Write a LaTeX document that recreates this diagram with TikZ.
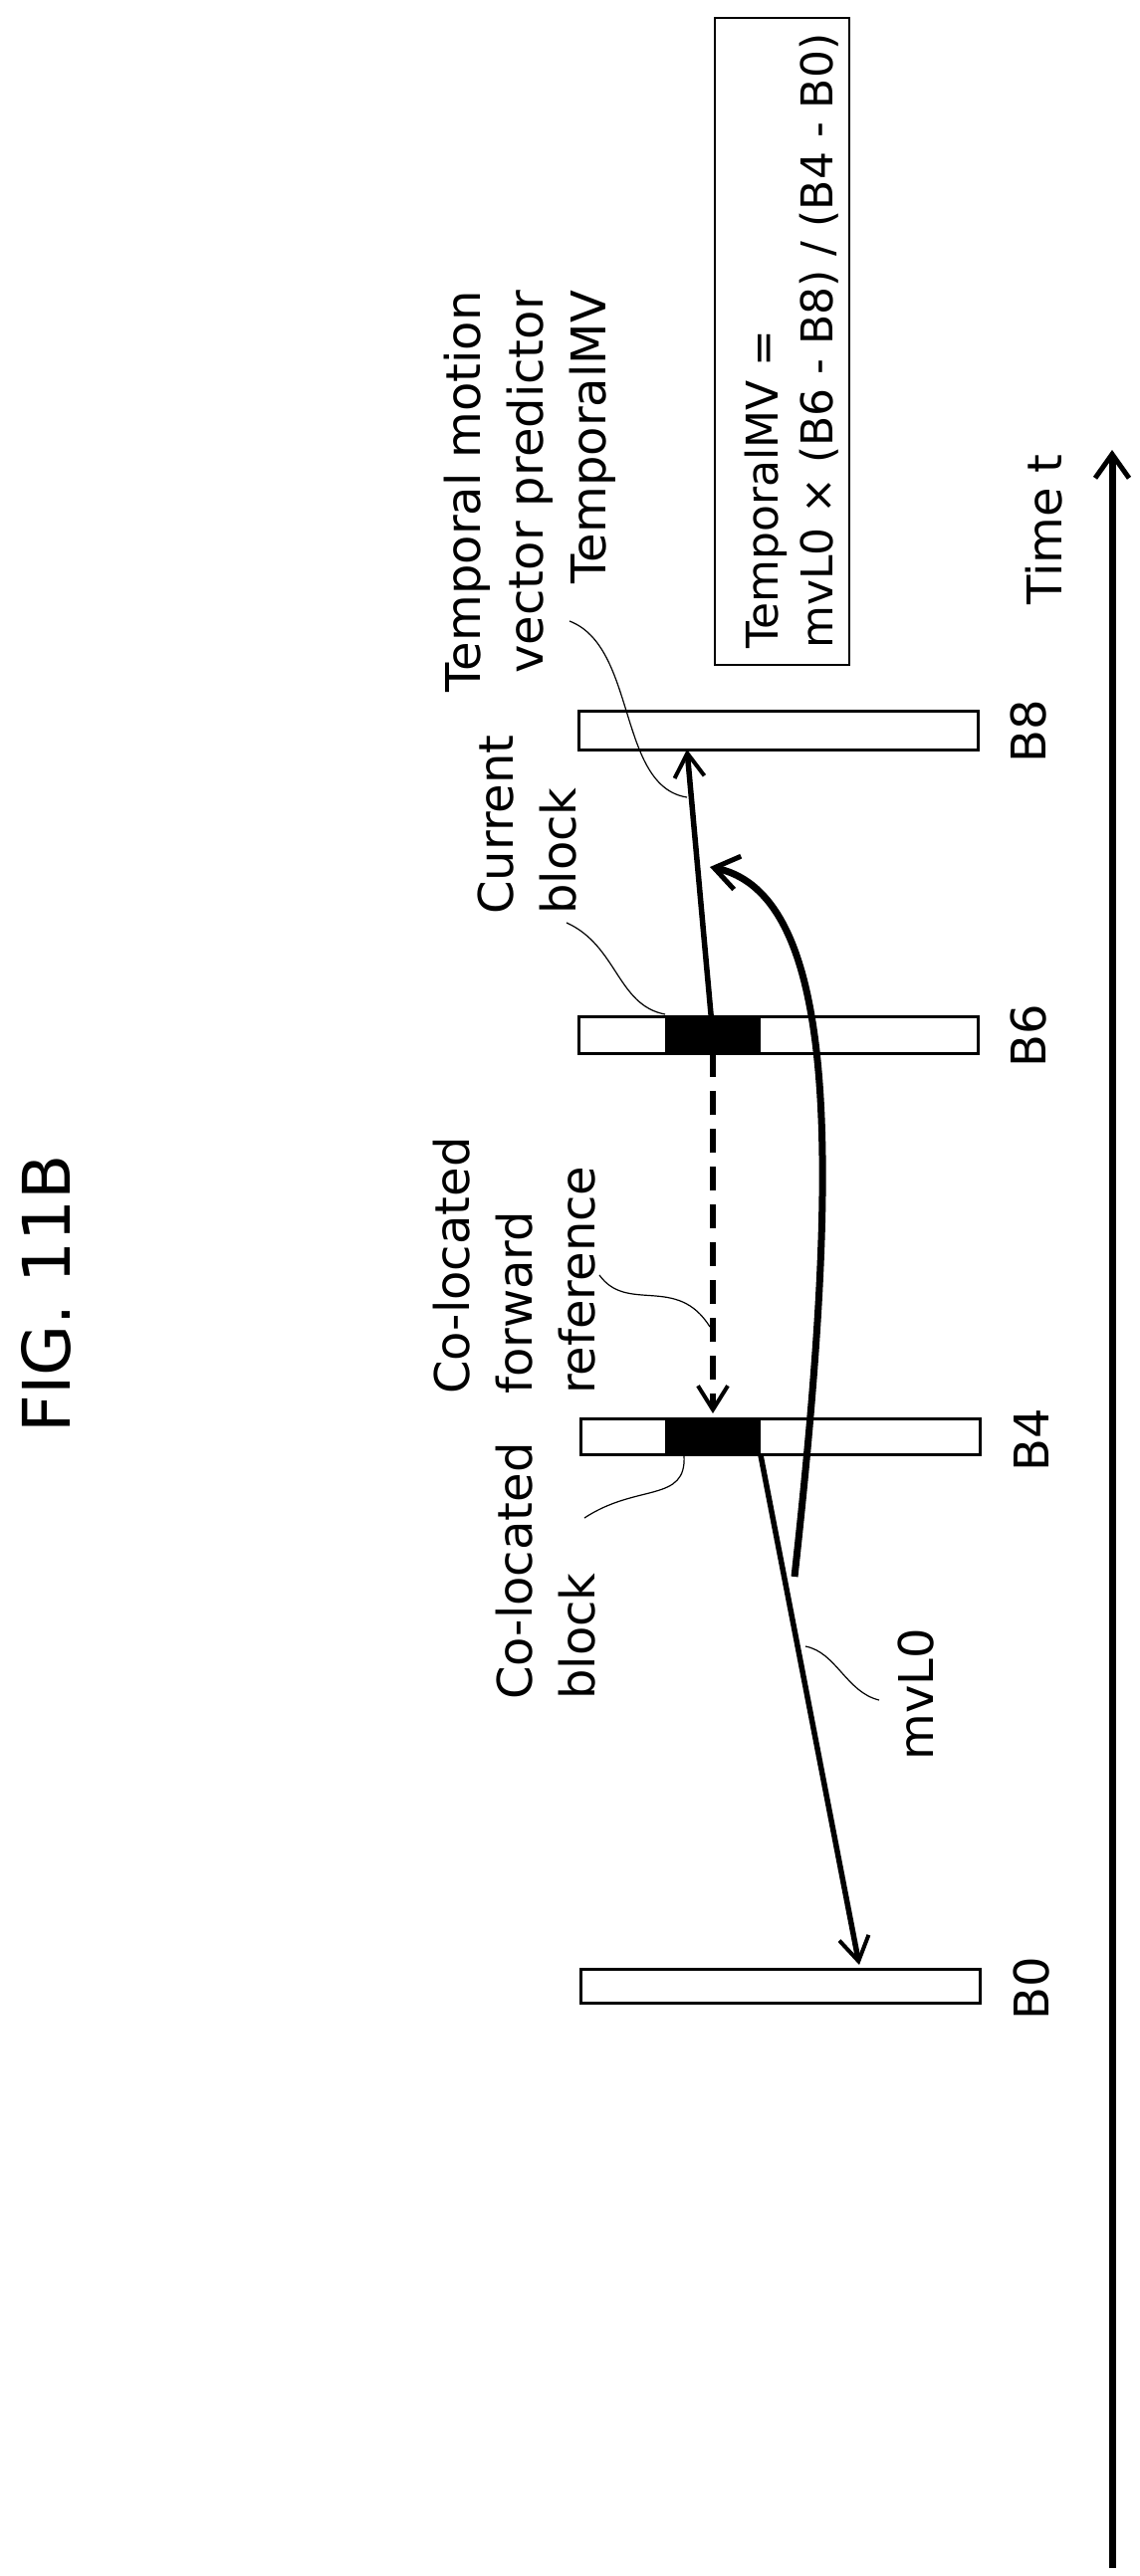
\documentclass[tikz,border=0pt]{standalone}
\usepackage{fontspec}
\setmainfont{DejaVu Sans}
\usetikzlibrary{arrows.meta}
\begin{document}
\begin{tikzpicture}[x=1pt,y=-1pt,
  lbl/.style={rotate=90,inner sep=0pt,font=\fontsize{48}{63}\selectfont},
  frame/.style={draw,line width=3pt,fill=white},
  blk/.style={fill=black},
  thick arrow/.style={line width=7pt,-{Straight Barb[length=24pt,width=34pt,line width=5pt]}},
  mv arrow/.style={line width=5.5pt,-{Straight Barb[length=24pt,width=30pt,line width=4pt]}},
  leader/.style={line width=1.2pt}]
\useasboundingbox (0,0) rectangle (1145,2588);
% title
\node[lbl,font=\fontsize{66}{72}\selectfont] (title) at (46,1300) {FIG. 11B};
% frames
\draw[frame] (581,714) rectangle (982,753); \coordinate (B8) at (690,753);
\draw[frame] (581,1021) rectangle (982,1058);
\draw[frame] (583,1425) rectangle (984,1461);
\draw[frame] (583,1978) rectangle (984,2012);
\fill[blk] (668,1021) rectangle (764,1058);
\fill[blk] (668,1425) rectangle (764,1461);
\coordinate (cur) at (716,1041);
\coordinate (curb) at (716,1058);
\coordinate (col) at (716,1420);
\coordinate (colb) at (764,1462);
\coordinate (B0) at (863,1974);
% labels for frames
\node[lbl] (lB8) at (1033,735) {B8};
\node[lbl] (lB6) at (1033,1041) {B6};
\node[lbl] (lB4) at (1036,1447) {B4};
\node[lbl] (lB0) at (1036,1998) {B0};
% time axis
\coordinate (ax0) at (1117,2580);
\coordinate (ax1) at (1117,452);
\draw[thick arrow] (ax0) -- (ax1);
\node[lbl] (time) at (1049,532) {Time t};
% formula box
\node[rotate=90,draw,line width=2.5pt,minimum width=650pt,minimum height=135pt,inner sep=0pt] (fbox) at (785.5,343) {};
\node[lbl,anchor=west,align=left,font=\fontsize{44}{55}\selectfont] (form) at (795,652) {TemporalMV =\\mvL0 × (B6 - B8) / (B4 - B0)};
% arrows
\draw[mv arrow] (cur) -- (B8);
\draw[mv arrow,dash pattern=on 24pt off 14pt] (curb) -- (col);
\draw[mv arrow] (colb) -- (B0);
\coordinate (cs) at (798,1584);
\coordinate (ce) at (713,871);
\draw[thick arrow] (cs) .. controls (840,1200) and (850,900) .. (ce);
% text labels
\node[lbl,anchor=east,align=right] (ltmv) at (532,292) {Temporal motion\\vector predictor\\TemporalMV};
\node[lbl,anchor=west,align=left] (lcur) at (530,919) {Current\\block};
\node[lbl,anchor=west,align=left] (lcfr) at (517,1401) {Co-located\\forward\\reference};
\node[lbl,anchor=west,align=left] (lcol) at (548,1708) {Co-located\\block};
\node[lbl] (lmv) at (920,1702) {mvL0};
% leaders
\draw[leader] (572,624) .. controls (640,650) and (620,790) .. (690,801);
\draw[leader] (569,927) .. controls (620,950) and (620,1010) .. (668,1019);
\draw[leader] (602,1281) .. controls (630,1320) and (680,1280) .. (713,1333);
\draw[leader] (587,1525) .. controls (640,1490) and (690,1510) .. (687,1462);
\draw[leader] (883,1708) .. controls (850,1700) and (840,1660) .. (809,1654);
\end{tikzpicture}
\end{document}
